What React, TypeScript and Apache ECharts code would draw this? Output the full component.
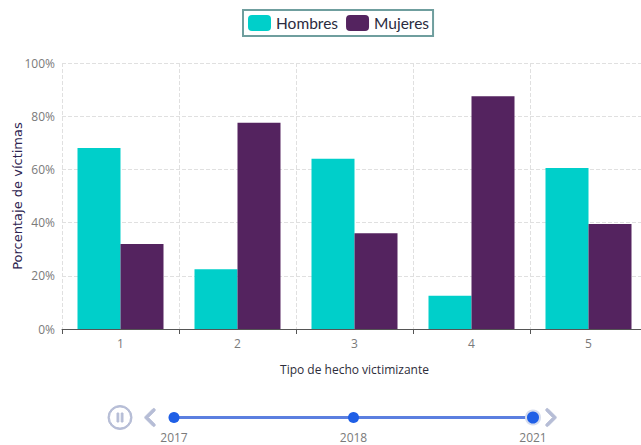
import React, { useEffect, useRef } from "react";
import * as echarts from "echarts";

const categories = ["1", "2", "3", "4", "5"];
const hombres = [68, 22.5, 64, 12.5, 60.5];
const mujeres = [32, 77.5, 36, 87.5, 39.5];
const years = ["2017", "2018", "2021"];

const pauseIcon =
  "path://M12 0A12 12 0 1 0 12 24A12 12 0 1 0 12 0ZM12 1.4A10.6 10.6 0 1 1 12 22.6A10.6 10.6 0 1 1 12 1.4ZM9 7.5H10.8V16.5H9ZM13.2 7.5H15V16.5H13.2Z";

export default function App() {
  const ref = useRef<HTMLDivElement>(null);
  useEffect(() => {
    document.body.style.margin = "0";
    const chart = echarts.init(ref.current!, null, { renderer: "svg" });
    chart.setOption({
      animation: false,
      backgroundColor: "#fff",
      textStyle: { fontFamily: "Open Sans" },
      color: ["#00cfca", "#54235f"],
      timeline: {
        axisType: "category",
        data: years,
        currentIndex: 2,
        autoPlay: true,
        playInterval: 2000000000,
        loop: false,
        left: 93,
        right: 60,
        top: 390,
        height: 54,
        symbol: "circle",
        symbolSize: 11,
        lineStyle: { color: "#5b7fe0", width: 3 },
        itemStyle: { color: "#1f5fe6", borderWidth: 0 },
        progress: {
          lineStyle: { color: "#5b7fe0", width: 3 },
          itemStyle: { color: "#1f5fe6", borderWidth: 0 },
        },
        checkpointStyle: {
          symbol: "circle",
          symbolSize: 14,
          color: "#1f5fe6",
          borderColor: "#d5dcee",
          borderWidth: 2,
          animation: false,
        },
        label: { color: "#7a7a7a", fontSize: 12, fontFamily: "Open Sans", position: 14 },
        controlStyle: {
          showPlayBtn: true,
          showPrevBtn: true,
          showNextBtn: true,
          itemSize: 24,
          itemGap: 9,
          stopIcon: pauseIcon,
          color: "#b6bdd6",
          borderColor: "#b6bdd6",
          borderWidth: 1,
        },
      },
      legend: {
        top: 10,
        left: 243,
        itemWidth: 23,
        itemHeight: 16,
        itemGap: 8,
        padding: [5, 4, 5, 5],
        borderColor: "#6f9e9e",
        borderWidth: 2,
        textStyle: { fontSize: 15.5, color: "#2b2b40", fontFamily: "Lato" },
        data: ["Hombres", "Mujeres"],
      },
      grid: { left: 62, right: -6, top: 63, bottom: 116, outerBoundsMode: "none" },
      xAxis: {
        type: "category",
        data: categories,
        name: "Tipo de hecho victimizante",
        nameLocation: "middle",
        nameGap: 34,
        nameMoveOverlap: false,
        nameTextStyle: { fontSize: 12, color: "#2d2d3a", fontFamily: "Open Sans" },
        axisLine: { lineStyle: { color: "#555" } },
        axisTick: { show: true, alignWithLabel: false, lineStyle: { color: "#555" } },
        axisLabel: { color: "#7a7a7a", fontSize: 12, margin: 8 },
        splitLine: { show: true, lineStyle: { type: "dashed", color: "#e0e0e0" } },
      },
      yAxis: {
        type: "value",
        min: 0,
        max: 100,
        interval: 20,
        name: "Porcentaje de víctimas",
        nameLocation: "middle",
        nameGap: 38,
        nameMoveOverlap: false,
        nameTextStyle: { fontSize: 13, color: "#2d2350", fontFamily: "DejaVu Sans", fontWeight: 500 },
        axisLine: { show: false },
        axisTick: { show: false },
        axisLabel: { color: "#7a7a7a", fontSize: 12, margin: 7, formatter: "{value}%" },
        splitLine: { show: true, lineStyle: { type: "dashed", color: "#e0e0e0" } },
      },
      series: [
        { name: "Hombres", type: "bar", data: hombres, barWidth: 43, barGap: 0 },
        { name: "Mujeres", type: "bar", data: mujeres, barWidth: 43, barGap: 0 },
      ],
    });
    return () => chart.dispose();
  }, []);
  return <div ref={ref} style={{ width: 641, height: 445 }} />;
}
